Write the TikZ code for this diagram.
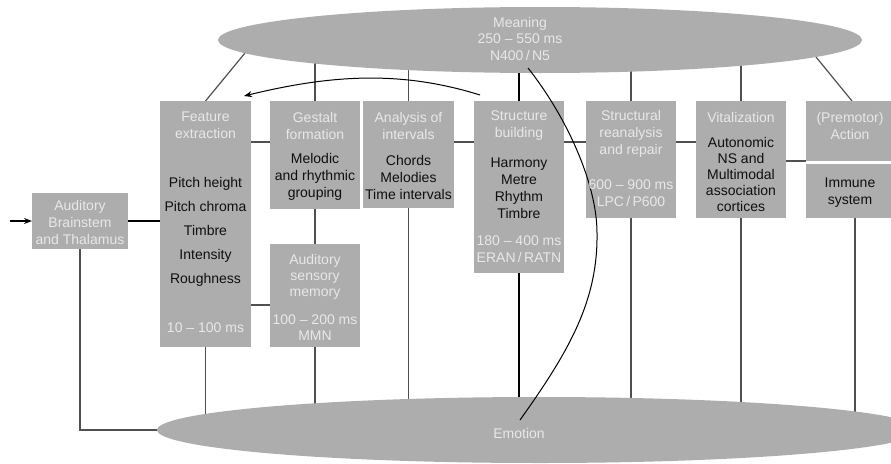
\documentclass[tikz,border=0pt]{standalone}
\usepackage{fontspec}
\setmainfont{Liberation Sans}
\usetikzlibrary{shapes.geometric,arrows.meta,backgrounds}
\definecolor{boxgray}{RGB}{172,173,172}
\definecolor{lighttxt}{RGB}{232,232,232}
\definecolor{linegray}{RGB}{80,80,80}
\definecolor{darktxt}{RGB}{15,15,15}
\begin{document}
\begin{tikzpicture}[x=1pt,y=-1pt,
  box/.style={fill=boxgray,draw=none,anchor=north west,inner sep=0pt,outer sep=0pt},
  lt/.style={text=lighttxt,align=center,inner sep=0pt,font=\fontsize{14}{17}\selectfont},
  dt/.style={text=darktxt,align=center,inner sep=0pt,font=\fontsize{14}{17}\selectfont},
  link/.style={draw=linegray,line width=1.2pt},
  boldlink/.style={draw=black,line width=2pt},
  oval/.style={ellipse,fill=boxgray,draw=none,inner sep=0pt},
  arrowed/.style={-{Stealth[length=8pt,width=6pt]}}]
\useasboundingbox (0,0) rectangle (891,463);
\clip (0,0) rectangle (891,463);

% boxes
\node[box,minimum width=96pt,minimum height=56pt] (aud) at (32,193) {};
\node[box,minimum width=91pt,minimum height=246pt] (feat) at (160,101) {};
\node[box,minimum width=90pt,minimum height=108pt] (gest) at (270,101) {};
\node[box,minimum width=91pt,minimum height=107pt] (anal) at (363,101) {};
\node[box,minimum width=90pt,minimum height=103pt] (sens) at (270,244) {};
\node[box,minimum width=90pt,minimum height=172pt] (struc) at (474,101) {};
\node[box,minimum width=90pt,minimum height=117pt] (reana) at (586,101) {};
\node[box,minimum width=90pt,minimum height=117pt] (vital) at (696,101) {};
\node[box,minimum width=92pt,minimum height=60pt] (premo) at (806,101) {};
\node[box,minimum width=92pt,minimum height=54pt] (immun) at (806,164) {};

% ellipses
\node[oval,minimum width=644pt,minimum height=66pt] (meaning) at (540,40) {};
\node[oval,minimum width=764pt,minimum height=66pt] (emotion) at (539,430) {};

% connectors under the shapes
\coordinate (mF) at (245,53);
\coordinate (mP) at (816,57);
\coordinate (pT) at (852,101);
\coordinate (iB) at (855,218);
\begin{scope}[on background layer]
  \draw[link] (feat.north) -- (mF);
  \draw[link] (gest.north) -- (gest.north |- meaning.center);
  \draw[link] (anal.north) -- (anal.north |- meaning.center);
  \draw[boldlink] (struc.north) -- (struc.north |- meaning.center);
  \draw[link] (reana.north) -- (reana.north |- meaning.center);
  \draw[link] (vital.north) -- (vital.north |- meaning.center);
  \draw[link] (pT) -- (mP);

  \draw[link] (aud.south) |- (emotion.west);
  \draw[link] (feat.south) -- (feat.south |- emotion.center);
  \draw[link] (gest.south) -- (sens.north);
  \draw[link] (sens.south) -- (sens.south |- emotion.center);
  \draw[link] (anal.south) -- (anal.south |- emotion.center);
  \draw[boldlink] (struc.south) -- (struc.south |- emotion.center);
  \draw[link] (reana.south) -- (reana.south |- emotion.center);
  \draw[link] (vital.south) -- (vital.south |- emotion.center);
  \draw[link] (iB) -- (iB |- emotion.center);

  \draw[link] (feat.east |- 0,142) -- (gest.west |- 0,142);
  \draw[link] (feat.east |- 0,305) -- (sens.west |- 0,305);
  \draw[link] (anal.east |- 0,142) -- (struc.west |- 0,142);
  \draw[link] (struc.east |- 0,142) -- (reana.west |- 0,142);
  \draw[link] (reana.east |- 0,142) -- (vital.west |- 0,142);
  \draw[link] (vital.east |- 0,161) -- (premo.south west);
  \draw[boldlink] (aud.east) -- (feat.west |- aud.east);
\end{scope}

% input arrow
\coordinate (in) at (10,221);
\draw[black,line width=1.5pt,arrowed] (in) -- (aud.west);

% feedback arrow
\coordinate (a1) at (480,95);
\coordinate (a2) at (244,96);
\draw[black,line width=1pt,arrowed] (a1) .. controls (400,70) and (330,75) .. (a2);

% S-curve from meaning to emotion
\coordinate (s1) at (528,68);
\coordinate (s2) at (597,233);
\coordinate (s3) at (520,420);
\draw[black,line width=1pt] (s1) .. controls (566,116) and (597,183) .. (s2)
  .. controls (598,300) and (570,350) .. (s3);

% texts
\node[lt,font=\fontsize{14}{16.5}\selectfont] (tMean) at (520,38.7) {Meaning\\250 – 550 ms\\N400\,/\,N5};
\node[lt] (tEmo) at (519,433) {Emotion};

\node[lt] (tAud) at (80,222) {Auditory\\Brainstem\\and Thalamus};

\node[lt] (tFeat) at (205.5,125.5) {Feature\\extraction};
\node[dt,font=\fontsize{14}{24}\selectfont] (bFeat) at (205.5,231.5) {Pitch height\\Pitch chroma\\Timbre\\Intensity\\Roughness};
\node[lt] (fFeat) at (205.5,328) {10 – 100 ms};

\node[lt] (tGest) at (315,125.5) {Gestalt\\formation};
\node[dt] (bGest) at (315,177) {Melodic\\and rhythmic\\grouping};

\node[lt] (tAnal) at (408.5,125.5) {Analysis of\\intervals};
\node[dt] (bAnal) at (408.5,177.5) {Chords\\Melodies\\Time intervals};

\node[lt,font=\fontsize{14}{16}\selectfont] (tSens) at (315,277) {Auditory\\sensory\\memory};
\node[lt,font=\fontsize{14}{16}\selectfont] (fSens) at (315,328) {100 – 200 ms\\MMN};

\node[lt] (tStruc) at (519,125.5) {Structure\\building};
\node[dt] (bStruc) at (519,188.5) {Harmony\\Metre\\Rhythm\\Timbre};
\node[lt] (fStruc) at (519,249.5) {180 – 400 ms\\ERAN\,/\,RATN};

\node[lt] (tReana) at (631,134) {Structural\\reanalysis\\and repair};
\node[lt] (fReana) at (631,193.5) {600 – 900 ms\\LPC\,/\,P600};

\node[lt] (tVital) at (741,117) {Vitalization};
\node[dt,font=\fontsize{14}{16}\selectfont] (bVital) at (741,174) {Autonomic\\NS and\\Multimodal\\association\\cortices};

\node[lt] (tPremo) at (850,125.5) {(Premotor)\\Action};
\node[dt] (bImmun) at (850,192.5) {Immune\\system};
\end{tikzpicture}
\end{document}
